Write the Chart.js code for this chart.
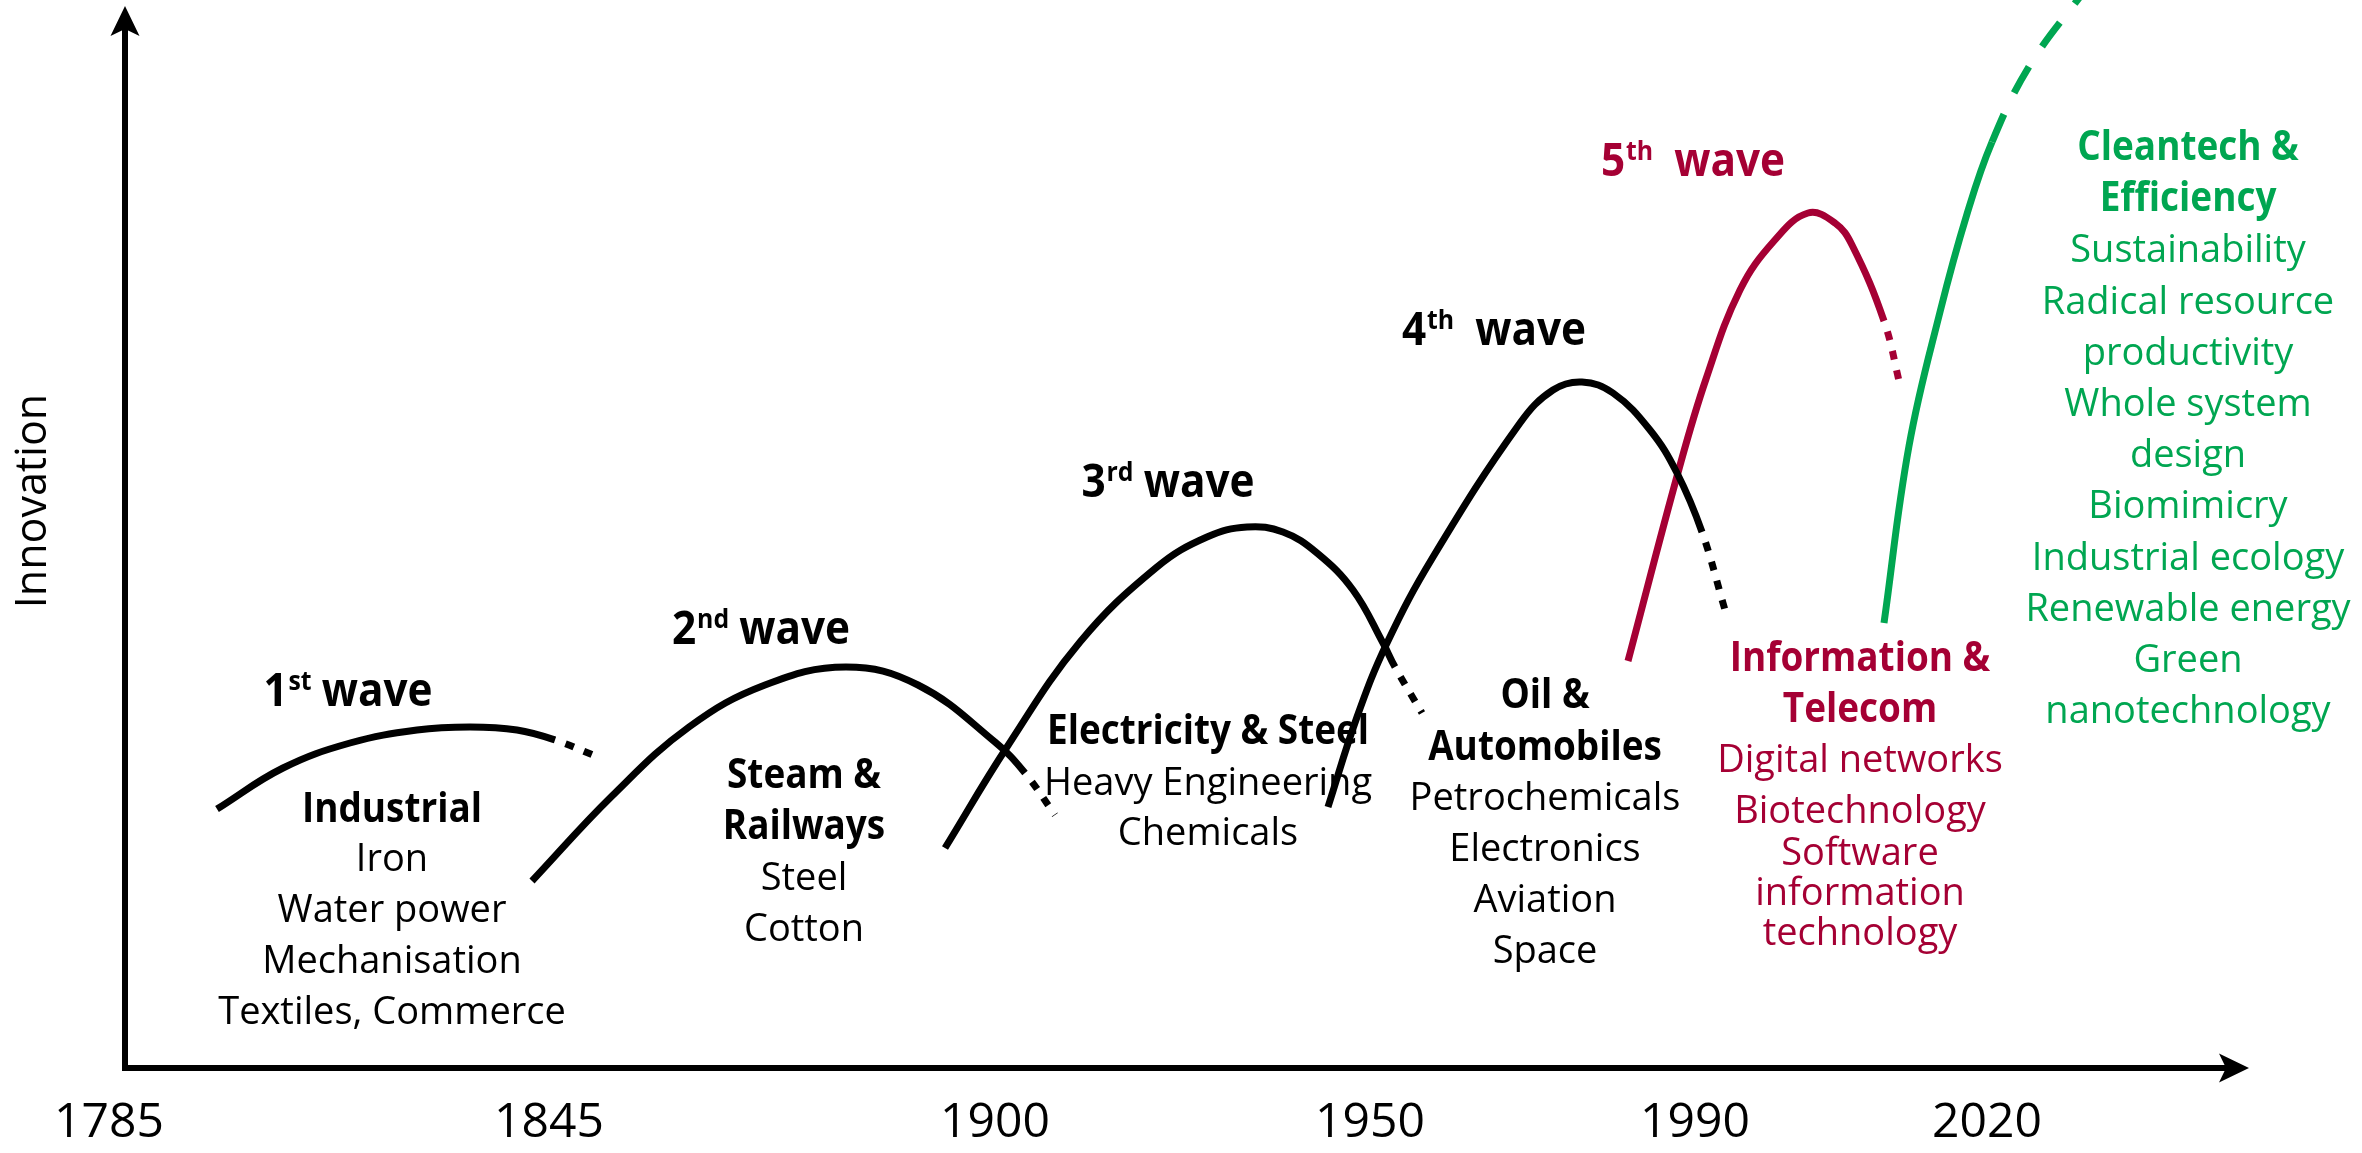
<!DOCTYPE html>
<html>
<head>
<meta charset="utf-8">
<title>Waves of innovation</title>
<script src="https://cdn.jsdelivr.net/npm/chart.js@4.4.1/dist/chart.umd.min.js"></script>
<style>
  html, body { margin: 0; padding: 0; background: #fff; }
  #wrap { width: 2362px; height: 1153px; }
</style>
</head>
<body>
<div id="wrap"><canvas id="chart" width="2362" height="1153"></canvas></div>
<script>
// the time axis is not linear in years, so x is a plain timeline position
const tickPositions = [0, 44.0, 88.6, 126.1, 158.6, 187.8];
const tickLabels = ['1785', '1845', '1900', '1950', '1990', '2020'];

// wave curves (innovation level vs timeline position), dotted tail starts at *Tail
const wave1X = [10.8, 17.4, 24.1, 30.8, 36.1, 40.8, 44.6, 48.9];
const wave1Y = [25.9, 30.0, 32.5, 33.8, 34.1, 33.8, 32.8, 31.1];
const wave1Tail = 6;

const wave2X = [42.3, 50.3, 58.0, 65.6, 73.7, 80.9, 88.6, 91.6, 94.6];
const wave2Y = [18.7, 27.2, 34.1, 38.3, 40.1, 38.3, 32.6, 29.5, 25.3];
const wave2Tail = 7;

const wave3X = [83.6, 89.8, 97.1, 104.8, 109.8, 113.8, 117.4, 120.8, 124.4, 127.4, 128.6, 131.3];
const wave3Y = [22.0, 32.1, 42.6, 50.1, 53.1, 54.1, 53.6, 51.5, 47.8, 42.5, 40.1, 35.5];
const wave3Tail = 10;

const wave4X = [121.9, 124.8, 127.8, 132.4, 141.1, 144.4, 147.3, 150.4, 154.1, 156.8, 159.3, 161.6];
const wave4Y = [26.1, 35.1, 42.5, 51.1, 64.5, 67.8, 68.6, 67.5, 63.8, 59.5, 53.6, 45.8];
const wave4Tail = 10;

const wave5X = [151.9, 157.0, 159.7, 163.1, 166.5, 169.9, 172.6, 174.3, 177.5, 179.1];
const wave5Y = [40.7, 59.9, 68.9, 77.8, 82.7, 85.5, 84.5, 82.3, 74.7, 68.3];
const wave5Tail = 8;

const wave6X = [177.5, 180.0, 183.1, 185.8, 188.3, 192.1, 197.6];
const wave6Y = [44.5, 62.2, 75.6, 85.4, 92.6, 100.3, 107.8];
const wave6Tail = 4;

// wave headings
const waveNums = ['1', '2', '3', '4', '5'];
const waveSups = ['st', 'nd', 'rd', 'th', 'th'];
const waveWords = [' wave', ' wave', ' wave', '  wave', '  wave'];
const waveLabelX = [23.9, 65.2, 105.9, 138.5, 158.4];
const waveLabelY = [36.2, 42.4, 57.1, 72.3, 89.2];

// text blocks under each wave: [text, x, baseline y, bold?]
const industrialNotes = [
    ['Industrial', 28.3, 24.6, true], ['Iron', 28.3, 19.7], ['Water power', 28.3, 14.6],
    ['Mechanisation', 28.3, 9.5], ['Textiles, Commerce', 28.3, 4.4]
];
const steamNotes = [
    ['Steam &', 69.5, 28.0, true], ['Railways', 69.5, 22.9, true], ['Steel', 69.5, 17.8], ['Cotton', 69.5, 12.7]
];
const electricityNotes = [
    ['Electricity & Steel', 109.9, 32.4, true], ['Heavy Engineering', 109.9, 27.3], ['Chemicals', 109.9, 22.3]
];
const oilNotes = [
    ['Oil &', 143.6, 36.0, true], ['Automobiles', 143.6, 30.8, true], ['Petrochemicals', 143.6, 25.8],
    ['Electronics', 143.6, 20.7], ['Aviation', 143.6, 15.6], ['Space', 143.6, 10.5]
];
const infoNotes = [
    ['Information &', 175.1, 39.7, true], ['Telecom', 175.1, 34.6, true], ['Digital networks', 175.1, 29.6],
    ['Biotechnology', 175.1, 24.5], ['Software', 175.1, 20.3], ['information', 175.1, 16.3], ['technology', 175.1, 12.3]
];
const cleanNotes = [
    ['Cleantech &', 207.9, 90.8, true], ['Efficiency', 207.9, 85.7, true], ['Sustainability', 207.9, 80.6],
    ['Radical resource', 207.9, 75.4], ['productivity', 207.9, 70.3], ['Whole system', 207.9, 65.2],
    ['design', 207.9, 60.1], ['Biomimicry', 207.9, 55.0], ['Industrial ecology', 207.9, 49.8],
    ['Renewable energy', 207.9, 44.7], ['Green', 207.9, 39.6], ['nanotechnology', 207.9, 34.5]
];

const BLACK = '#000000';
const RED = '#a50034';
const GREEN = '#00a651';
const FONT = '"Open Sans", "DejaVu Sans", sans-serif';

function waveDataset(xs, ys, tail, color, dash, dashOffset) {
    return {
        data: xs.map((x, i) => ({ x: x, y: ys[i] })),
        borderColor: color,
        borderWidth: 7,
        borderCapStyle: 'butt',
        pointRadius: 0,
        tension: 0.4,
        segment: {
            borderDash: ctx => ctx.p0DataIndex >= tail ? dash : undefined,
            borderDashOffset: ctx => ctx.p0DataIndex >= tail ? dashOffset : 0
        }
    };
}

function drawText(ctx, text, px, py, size, bold, color, hscale) {
    ctx.save();
    ctx.translate(px, py);
    ctx.scale(hscale, 1);
    ctx.font = (bold ? '700 ' : '400 ') + size + 'px ' + FONT;
    ctx.fillStyle = color;
    ctx.textAlign = 'center';
    ctx.textBaseline = 'alphabetic';
    ctx.fillText(text, 0, 0);
    ctx.restore();
}

// axis lines with arrow heads
const axisArrows = {
    id: 'axisArrows',
    beforeDatasetsDraw(chart) {
        const ctx = chart.ctx;
        const x = chart.scales.x, y = chart.scales.y;
        const ox = x.getPixelForValue(1.6);
        const oy = y.getPixelForValue(0);
        const top = y.getPixelForValue(106.2);
        const right = x.getPixelForValue(214);
        ctx.save();
        ctx.strokeStyle = BLACK;
        ctx.fillStyle = BLACK;
        ctx.lineWidth = 6;
        ctx.beginPath();
        ctx.moveTo(ox, oy + 3);
        ctx.lineTo(ox, top + 22);
        ctx.moveTo(ox - 3, oy);
        ctx.lineTo(right - 22, oy);
        ctx.stroke();
        ctx.beginPath();
        ctx.moveTo(ox, top);
        ctx.lineTo(ox + 14.5, top + 30);
        ctx.lineTo(ox, top + 23);
        ctx.lineTo(ox - 14.5, top + 30);
        ctx.closePath();
        ctx.fill();
        ctx.beginPath();
        ctx.moveTo(right, oy);
        ctx.lineTo(right - 30, oy - 14.5);
        ctx.lineTo(right - 23, oy);
        ctx.lineTo(right - 30, oy + 14.5);
        ctx.closePath();
        ctx.fill();
        ctx.restore();
    }
};

// wave headings, topic lists and the y axis title
const annotations = {
    id: 'annotations',
    afterDatasetsDraw(chart) {
        const ctx = chart.ctx;
        const x = chart.scales.x, y = chart.scales.y;

        waveNums.forEach((num, i) => {
            const color = i === 4 ? RED : BLACK;
            const big = 46, small = 27, hs = 0.92;
            ctx.save();
            ctx.font = '700 ' + big + 'px ' + FONT;
            const wNum = ctx.measureText(num).width;
            const wWord = ctx.measureText(waveWords[i]).width;
            ctx.font = '700 ' + small + 'px ' + FONT;
            const wSup = ctx.measureText(waveSups[i]).width;
            const total = (wNum + wSup + wWord) * hs;
            const cx = x.getPixelForValue(waveLabelX[i]);
            const by = y.getPixelForValue(waveLabelY[i]);
            ctx.translate(cx - total / 2, by);
            ctx.scale(hs, 1);
            ctx.fillStyle = color;
            ctx.textAlign = 'left';
            ctx.textBaseline = 'alphabetic';
            ctx.font = '700 ' + big + 'px ' + FONT;
            ctx.fillText(num, 0, 0);
            ctx.fillText(waveWords[i], wNum + wSup, 0);
            ctx.font = '700 ' + small + 'px ' + FONT;
            ctx.fillText(waveSups[i], wNum + 1, -16);
            ctx.restore();
        });

        const groups = [
            [industrialNotes, BLACK], [steamNotes, BLACK], [electricityNotes, BLACK],
            [oilNotes, BLACK], [infoNotes, RED], [cleanNotes, GREEN]
        ];
        groups.forEach(([notes, color]) => {
            notes.forEach(n => {
                const bold = !!n[3];
                drawText(ctx, n[0], x.getPixelForValue(n[1]), y.getPixelForValue(n[2]),
                    bold ? 41 : 38, bold, color, bold ? 0.9 : 1);
            });
        });

        ctx.save();
        ctx.translate(x.getPixelForValue(-6.3), y.getPixelForValue(56.7));
        ctx.rotate(-Math.PI / 2);
        ctx.font = '400 43px ' + FONT;
        ctx.fillStyle = BLACK;
        ctx.textAlign = 'center';
        ctx.textBaseline = 'alphabetic';
        ctx.fillText('Innovation', 0, 0);
        ctx.restore();
    }
};

Chart.defaults.font.family = FONT;

const dotted = [9, 11];
const dashed = [30, 24];

new Chart(document.getElementById('chart'), {
    type: 'line',
    data: {
        datasets: [
            waveDataset(wave1X, wave1Y, wave1Tail, BLACK, dotted, 9),
            waveDataset(wave2X, wave2Y, wave2Tail, BLACK, dotted, 9),
            waveDataset(wave3X, wave3Y, wave3Tail, BLACK, dotted, 9),
            waveDataset(wave4X, wave4Y, wave4Tail, BLACK, dotted, 9),
            waveDataset(wave5X, wave5Y, wave5Tail, RED, dotted, 9),
            waveDataset(wave6X, wave6Y, wave6Tail, GREEN, dashed, 0)
        ]
    },
    options: {
        responsive: false,
        animation: false,
        devicePixelRatio: 1,
        layout: { padding: { left: 109, right: 113, top: 0, bottom: 0 } },
        plugins: {
            legend: { display: false },
            tooltip: { enabled: false }
        },
        scales: {
            x: {
                type: 'linear',
                min: 0,
                max: 214,
                grid: { display: false, drawTicks: false },
                border: { display: false },
                afterBuildTicks: axis => {
                    axis.ticks = tickPositions.map(v => ({ value: v }));
                },
                afterFit: axis => { axis.height = 85; },
                ticks: {
                    autoSkip: false,
                    maxRotation: 0,
                    minRotation: 0,
                    padding: 27,
                    color: BLACK,
                    font: { size: 48 },
                    callback: (value, index) => tickLabels[index]
                }
            },
            y: {
                type: 'linear',
                display: false,
                min: 0,
                max: 106.8
            }
        }
    },
    plugins: [axisArrows, annotations]
});
</script>
</body>
</html>
